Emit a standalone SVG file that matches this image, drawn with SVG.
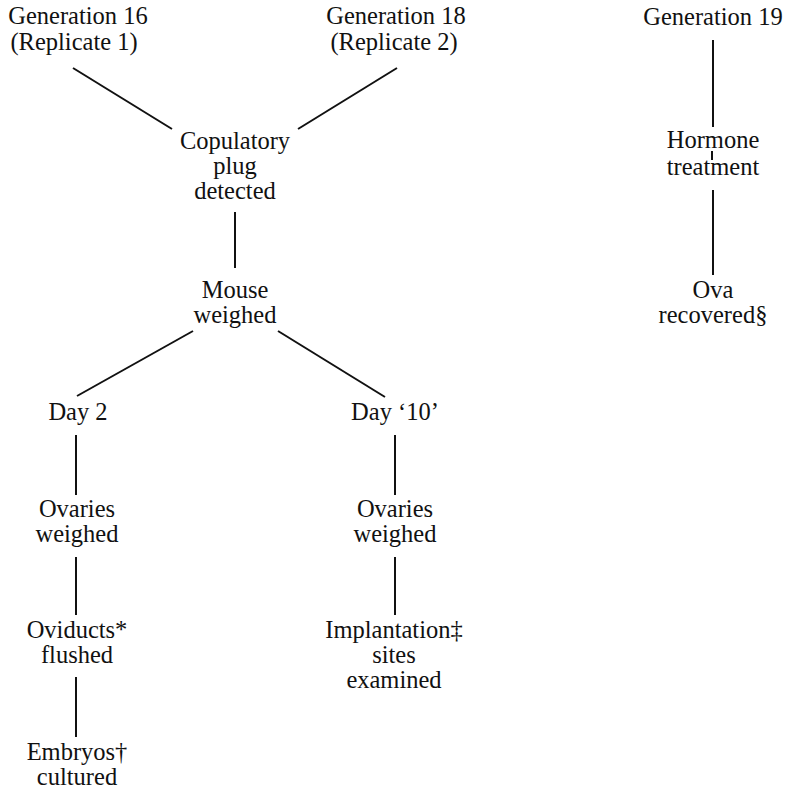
<svg xmlns="http://www.w3.org/2000/svg" width="785" height="792" viewBox="0 0 785 792">
<style>
text{font-family:"Liberation Serif","Times New Roman",serif;font-size:24.5px;fill:#111;text-anchor:middle}
.c line{stroke:#111;stroke-width:2;stroke-linecap:butt}
</style>
<rect width="785" height="792" fill="#fff"/>
<g class="c" id="connectors">
<line x1="73" y1="68" x2="172" y2="129"/>
<line x1="397" y1="68" x2="298" y2="129"/>
<line x1="235" y1="212" x2="235" y2="268"/>
<line x1="193" y1="331" x2="77" y2="396"/>
<line x1="278" y1="331" x2="385" y2="397"/>
<line x1="76" y1="435" x2="76" y2="495"/>
<line x1="76" y1="557" x2="76" y2="615"/>
<line x1="76" y1="677" x2="76" y2="737"/>
<line x1="395" y1="435" x2="395" y2="495"/>
<line x1="395" y1="557" x2="395" y2="615"/>
<line x1="713" y1="40" x2="713" y2="127"/>
<line x1="712" y1="151" x2="712" y2="160"/>
<line x1="713" y1="190" x2="713" y2="275"/>
</g>
<g id="gen16"><text x="78" y="24">Generation 16</text><text x="74" y="50" font-size="24">(Replicate 1)</text></g>
<g id="gen18"><text x="396" y="24">Generation 18</text><text x="394" y="50" font-size="24">(Replicate 2)</text></g>
<g id="plug"><text x="235" y="149">Copulatory</text><text x="235" y="174">plug</text><text x="235" y="199">detected</text></g>
<g id="mouse"><text x="235" y="298">Mouse</text><text x="235" y="323">weighed</text></g>
<g id="day2"><text x="78" y="420">Day 2</text></g>
<g id="day10"><text x="395" y="420">Day ‘10’</text></g>
<g id="ovaries1"><text x="77" y="517">Ovaries</text><text x="77" y="542">weighed</text></g>
<g id="ovaries2"><text x="395" y="517">Ovaries</text><text x="395" y="542">weighed</text></g>
<g id="oviducts"><text x="77" y="638">Oviducts*</text><text x="77" y="663">flushed</text></g>
<g id="embryos"><text x="77" y="760">Embryos†</text><text x="77" y="785">cultured</text></g>
<g id="implant"><text x="394" y="638">Implantation‡</text><text x="394" y="663">sites</text><text x="394" y="688">examined</text></g>
<g id="gen19"><text x="713" y="25">Generation 19</text></g>
<g id="hormone"><text x="713" y="148">Hormone</text><text x="713" y="175">treatment</text></g>
<g id="ova"><text x="713" y="298">Ova</text><text x="713" y="323">recovered§</text></g>
</svg>
